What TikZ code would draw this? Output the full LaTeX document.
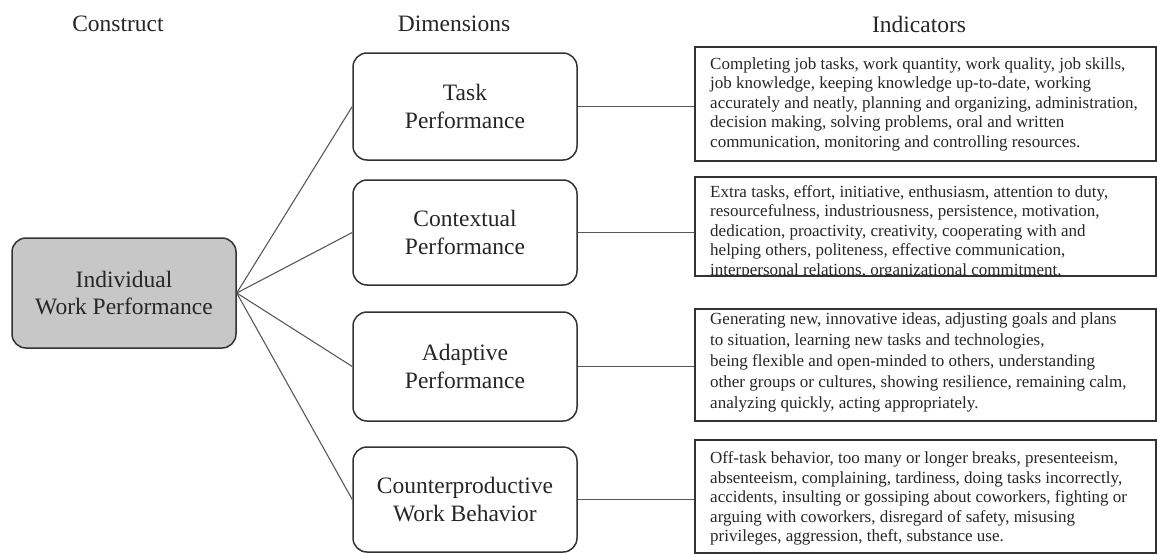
\documentclass[tikz,border=0pt]{standalone}
\usepackage{fontspec}
\setmainfont{Liberation Serif}
\begin{document}
\begin{tikzpicture}[x=1pt,y=-1pt,
  header/.style={font=\fontsize{23.5}{27.7}\selectfont, text=black!85},
  dimbox/.style={draw=black!80, line width=1.5pt, rounded corners=14pt,
    minimum width=224pt, minimum height=107pt, align=center,
    font=\fontsize{23.5}{27.7}\selectfont, text=black!85, inner sep=0pt},
  constbox/.style={dimbox, fill=black!22, minimum height=110pt},
  indbox/.style={draw=black!80, line width=1.5pt, minimum width=461pt, inner sep=0pt},
  indtext/.style={anchor=west, align=left, inner sep=0pt,
    font=\fontsize{17}{19.5}\selectfont, text=black!85},
  conn/.style={draw=black!65, line width=1.1pt}]
\useasboundingbox (0,0) rectangle (1157,554);

% headers
\node[header] (hc) at (118,24) {Construct};
\node[header] (hd) at (454,24) {Dimensions};
\node[header] (hi) at (919,24) {Indicators};

% construct
\node[constbox] (iwp) at (124,293) {Individual\\Work Performance};

% dimensions
\node[dimbox] (tp) at (465,106.5) {Task\\Performance};
\node[dimbox, minimum height=105pt] (cp) at (465,232.5) {Contextual\\Performance};
\node[dimbox, minimum height=109pt] (ap) at (465,366.5) {Adaptive\\Performance};
\node[dimbox, minimum height=105pt] (cwb) at (465,499.5) {Counterproductive\\Work Behavior};

% indicator boxes
\node[indbox, minimum height=114pt] (ti) at (925.5,104) {};
\node[indbox, minimum height=99pt] (ci) at (925.5,226.5) {};
\node[indbox, minimum height=112pt] (ai) at (925.5,365) {};
\node[indbox, minimum height=113pt] (wi) at (925.5,496.5) {};

\node[indtext] (tit) at (710,104) {Completing job tasks, work quantity, work quality, job skills,\\
job knowledge, keeping knowledge up-to-date, working\\
accurately and neatly, planning and organizing, administration,\\
decision making, solving problems, oral and written\\
communication, monitoring and controlling resources.};

\begin{scope}
\clip (695,177) rectangle (1156,276);
\node[indtext] (cit) at (710,232) {Extra tasks, effort, initiative, enthusiasm, attention to duty,\\
resourcefulness, industriousness, persistence, motivation,\\
dedication, proactivity, creativity, cooperating with and\\
helping others, politeness, effective communication,\\
interpersonal relations, organizational commitment.};
\end{scope}
\node[indbox, minimum height=99pt] at (925.5,226.5) {};

\node[indtext, font=\fontsize{17}{21}\selectfont] (ait) at (710,362) {Generating new, innovative ideas, adjusting goals and plans\\
to situation, learning new tasks and technologies,\\
being flexible and open-minded to others, understanding\\
other groups or cultures, showing resilience, remaining calm,\\
analyzing quickly, acting appropriately.};

\node[indtext] (wit) at (710,498.5) {Off-task behavior, too many or longer breaks, presenteeism,\\
absenteeism, complaining, tardiness, doing tasks incorrectly,\\
accidents, insulting or gossiping about coworkers, fighting or\\
arguing with coworkers, disregard of safety, misusing\\
privileges, aggression, theft, substance use.};

% connectors
\draw[conn] (iwp.east) -- (tp.west);
\draw[conn] (iwp.east) -- (cp.west);
\draw[conn] (iwp.east) -- (ap.west);
\draw[conn] (iwp.east) -- (cwb.west);
\draw[conn] (tp.east) -- (tp.east -| ti.west);
\draw[conn] (cp.east) -- (cp.east -| ci.west);
\draw[conn] (ap.east) -- (ap.east -| ai.west);
\draw[conn] (cwb.east) -- (cwb.east -| wi.west);
\end{tikzpicture}
\end{document}
